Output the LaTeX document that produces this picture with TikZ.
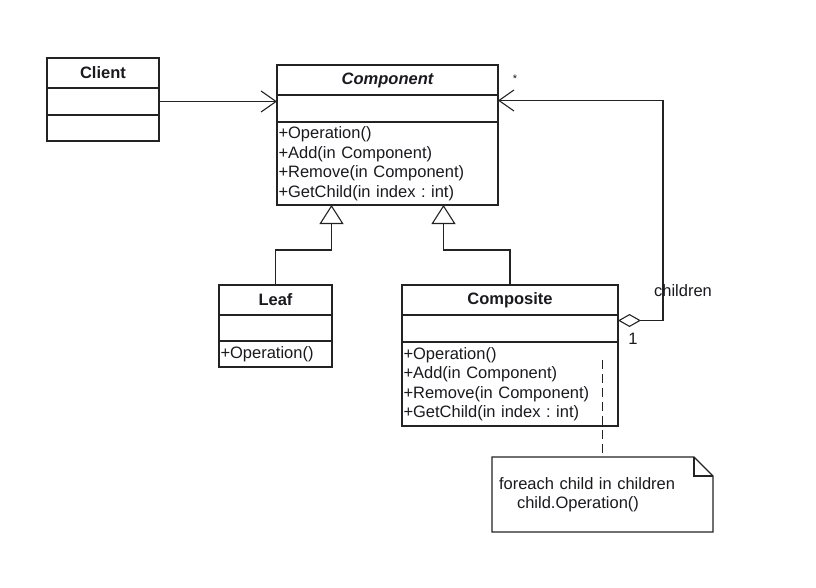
\documentclass[tikz,border=0pt]{standalone}
\usepackage{fontspec}
\setmainfont{Liberation Sans}
\usepackage{xcolor}
\usetikzlibrary{arrows.meta,positioning}
\definecolor{umlline}{RGB}{35,35,35}
\definecolor{umltext}{RGB}{25,25,30}
\frenchspacing

\begin{document}
\begin{tikzpicture}[
 x=1pt,y=-1pt,
 font=\fontsize{16.5}{19.5}\selectfont,
 every node/.style={text=umltext,outer sep=0pt},
 cls/.style={draw=umlline,line width=1.1pt,rectangle,inner xsep=1.5pt,inner ysep=0pt,text width=#1},
 head/.style={cls=#1,align=center,anchor=north west,minimum height=30pt,font=\fontsize{16.5}{19.5}\selectfont\bfseries},
 attr/.style={cls=#1,minimum height=27pt},
 ops/.style={cls=#1,align=left,minimum height=26pt},
 ref/.style={draw=umlline,line width=1.1pt,-{Straight Barb[length=15pt,width=21pt]}},
 inh/.style={draw=umlline,line width=1.1pt,-{Triangle[open,length=19pt,width=24pt]}},
 agg/.style={draw=umlline,line width=1.1pt,{Diamond[open,length=23pt,width=13pt]}-{Straight Barb[length=15pt,width=21pt]}},
 lbl/.style={inner sep=0pt},
 notebox/.style={anchor=north west,align=left,text width=207pt,inner xsep=7pt,minimum height=75pt}
]
\useasboundingbox (0,0) rectangle (816,588);
\node[head=109pt] (cl-title) at (47,58) {Client};
\node[attr=109pt,below=0pt of cl-title] (cl-attr) {};
\node[ops=109pt,below=0pt of cl-attr] (cl-ops) {};
\node[head=218pt] (cpt-title) at (277,65) {\itshape Component};
\node[attr=218pt,below=0pt of cpt-title] (cpt-attr) {};
\node[ops=218pt,minimum height=83pt,below=0pt of cpt-attr] (cpt-ops) {+Operation()\\+Add(in Component)\\+Remove(in Component)\\+GetChild(in index : int)};
\node[head=110pt] (leaf-title) at (219,285) {Leaf};
\node[attr=110pt,minimum height=26pt,below=0pt of leaf-title] (leaf-attr) {};
\node[ops=110pt,below=0pt of leaf-attr] (leaf-ops) {+Operation()};
\node[head=213pt] (cmp-title) at (402,285) {Composite};
\node[attr=213pt,below=0pt of cmp-title] (cmp-attr) {};
\node[ops=213pt,minimum height=84pt,below=0pt of cmp-attr] (cmp-ops) {+Operation()\\+Add(in Component)\\+Remove(in Component)\\+GetChild(in index : int)};
\node[notebox] (note) at (492,457) {foreach child in children\\\hspace*{18pt}child.Operation()};
\draw[umlline,line width=1.1pt] (note.north west) -- ([xshift=-19pt]note.north east) -- ([yshift=-19pt]note.north east) -- (note.south east) -- (note.south west) -- cycle;
\draw[umlline,line width=1.1pt] ([xshift=-19pt]note.north east) |- ([yshift=-19pt]note.north east);
\draw[ref] (cl-attr.east) -- (cl-attr.east -| cpt-attr.west);
\draw[inh] (leaf-title.north) -- ++(0,-35) -| ([xshift=-56pt]cpt-ops.south);
\draw[inh] (cmp-title.north) -- ++(0,-35) -| ([xshift=56pt]cpt-ops.south);
\draw[agg] ([yshift=8pt]cmp-attr.east) -- ++(45,0) |- ([yshift=8pt]cpt-attr.east);
\draw[umlline,line width=1.1pt,dash pattern=on 9pt off 5pt] ([yshift=-18pt]cmp-ops.north -| note.north) -- (note.north);
\node[lbl,font=\fontsize{11}{13}\selectfont] (mult-many) at (515,79) {*};
\node[lbl] (role) at (683,291) {children};
\node[lbl] (mult-one) at (633,339) {1};
\end{tikzpicture}
\end{document}
